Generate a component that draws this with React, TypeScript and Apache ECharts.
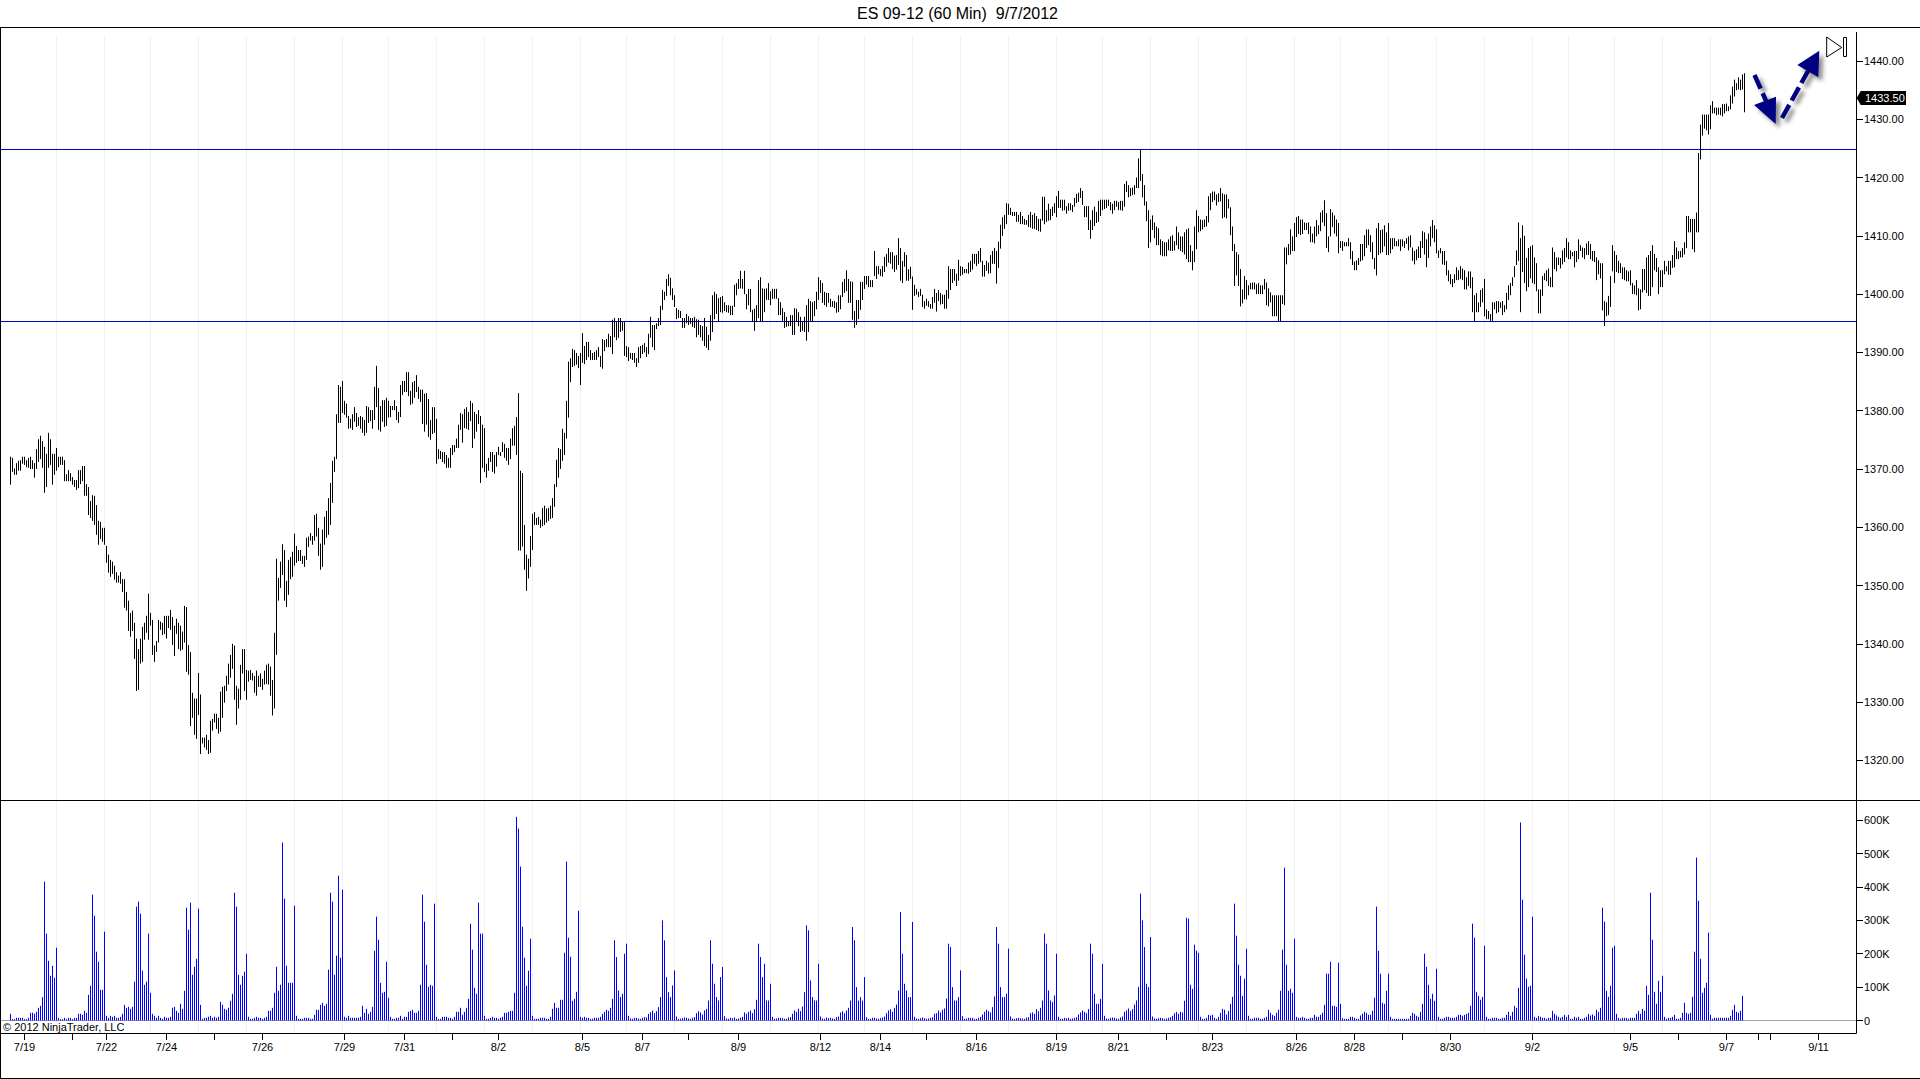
import React, { useEffect, useRef } from "react";
import * as echarts from "echarts";

const highs = [
1372.1,1371.9,1370.1,1371,1371.4,1371.5,1372.1,1372.1,1371.5,1371.9,
1372.1,1371.5,1371,1373.4,1375.1,1375.7,1374.8,1373.8,1372.6,1376.2,
1375.1,1372.6,1372.6,1373.6,1372.1,1372.1,1372.1,1371.5,1369.1,1369.8,
1369.3,1368.6,1368.1,1368.1,1369.8,1369.8,1370.5,1370.5,1367.4,1366.9,
1364.5,1365.5,1365.4,1363.8,1361.1,1360.9,1359.9,1359.9,1356.8,1355.3,
1354.4,1354.1,1353.4,1352.3,1351.7,1352.3,1351.1,1351.1,1348.9,1347.4,
1345.3,1345.7,1343.6,1340.9,1339.1,1340.9,1342.9,1343.6,1344.8,1348.6,
1345.3,1344.1,1339.7,1340.5,1344.1,1343.8,1343.6,1344.8,1344.8,1344.8,
1345.8,1344.6,1343.1,1344.3,1343.6,1343.1,1342.1,1346.5,1346.3,1339.8,
1338.6,1331.6,1330.6,1330.6,1335,1331.3,1323.9,1323.9,1324.4,1323.5,
1326.8,1327.1,1328,1328,1327.3,1331.8,1332.6,1332.8,1334.5,1336.6,
1338.1,1340,1339.7,1332.8,1332.3,1336.4,1339.1,1339.1,1335.5,1335.4,
1335.5,1335,1334.5,1335.4,1334.5,1334.9,1334,1335.4,1336.4,1336.6,
1336.1,1333.8,1341.9,1354.6,1351.3,1354.1,1357.1,1356.1,1350.8,1354.4,
1354.9,1355.8,1358.9,1356.8,1356.1,1356.1,1355.1,1355.1,1358.2,1358.4,
1359,1358.5,1362.1,1362.3,1359.9,1357.2,1359.6,1361.8,1362.8,1365,
1367.6,1371.4,1372.1,1379.4,1384.4,1384.1,1385.1,1381.7,1381.2,1379.1,
1378.6,1379.4,1380.6,1379.6,1378.9,1379.1,1378.9,1378.4,1380.8,1380.6,
1380.1,1380.1,1384.1,1387.7,1383.9,1380.8,1381.8,1381.8,1382.2,1381.7,
1380.8,1380.8,1381.8,1380.8,1379.8,1384.4,1385.1,1385.1,1386.6,1386.6,
1383.4,1384.9,1385.1,1386.1,1384.1,1383.6,1383.6,1382.9,1383,1382,
1378.4,1380.6,1380.6,1378.6,1373.4,1373.1,1372.9,1372.9,1372.4,1371.9,
1373.6,1374.1,1374.1,1375.2,1377.6,1379.6,1379.4,1380.3,1380.6,1379.8,
1381.7,1381.3,1379.8,1379.4,1380.1,1379.1,1377.6,1377,1370.9,1371.9,
1372.9,1372.9,1372.4,1372.9,1373.8,1372.9,1374.6,1374.3,1373.6,1373.6,
1375.2,1377,1377.4,1378.9,1383,1369.7,1369.3,1360.4,1355.3,1354.6,
1358.5,1362.3,1362.6,1361.6,1361.8,1361.3,1363.3,1363.7,1363.2,1363.3,
1363.7,1365,1367.4,1371.6,1373.6,1373.4,1376.9,1376.2,1381.7,1388.4,
1389,1390.6,1390.4,1389.9,1389.4,1389.9,1393.3,1391.1,1391.8,1391.8,
1390.4,1389.9,1390.1,1390.4,1390.9,1389.4,1392.3,1392.1,1392.3,1393.2,
1392.8,1395.6,1395.9,1395.2,1395.9,1395.9,1395.2,1395.2,1391.1,1390.9,
1389.9,1389.9,1389.9,1389,1390.9,1391.1,1391.3,1391.6,1390.9,1393.2,
1396.1,1394.7,1394.7,1395,1395.9,1398,1400.7,1400.4,1402.6,1403.4,
1402.8,1401,1399.8,1397.6,1397.3,1397.1,1395.9,1395.9,1396.6,1396.2,
1395.9,1395.9,1396.1,1395.7,1395.6,1394.7,1394.5,1395.9,1394.4,1393,
1396.4,1399.8,1400.4,1400,1399.3,1399.5,1399.7,1398.6,1398.1,1398.1,
1398,1398,1401.6,1401.9,1402.6,1404,1402.6,1404,1400,1400.9,
1400.9,1397.3,1397.5,1398.1,1402.4,1402.9,1401,1400.9,1401,1401.9,
1400.5,1400.9,1400.9,1400.9,1399.3,1398.6,1397.6,1396.9,1396.1,1395.4,
1396.4,1396.4,1397.6,1397.5,1396.9,1396.1,1395.2,1396.1,1398.1,1399.2,
1398.8,1398.6,1398.8,1400.4,1402.9,1402.4,1401.9,1400.4,1400.2,1400.2,
1399.2,1398.8,1398.8,1398.6,1399.8,1399.8,1402.1,1402.6,1404.1,1402.6,
1402.2,1402.1,1397.1,1399,1399,1402.1,1402.1,1403.1,1403.1,1403.1,
1402.4,1402.4,1407.4,1404.8,1404.8,1404.3,1404.8,1406.4,1406.9,1407.9,
1407.2,1407.2,1406.6,1406.7,1409.6,1407.9,1405.7,1407.2,1406.7,1404.3,
1404.7,1403,1401.6,1400.9,1400.4,1400.9,1399.9,1398.8,1399.2,1398.8,
1398.3,1399.5,1400.9,1400.2,1400.7,1400.2,1399.9,1399.9,1400.7,1404.8,
1404.3,1404.3,1404.3,1403.5,1405.9,1404.8,1404.7,1404.3,1404.3,1405.4,
1405.7,1406.9,1406.9,1406.9,1407.4,1407.9,1405.7,1405,1405.7,1405.4,
1406.7,1407.4,1407.9,1407.4,1409,1411.9,1413.2,1413.6,1415.6,1415.5,
1414.8,1414.1,1414.1,1414.1,1413.6,1414.1,1413.4,1412.9,1412.7,1413.6,
1414.1,1413.6,1413.9,1413.4,1412.9,1412.9,1416.7,1416.7,1414.4,1415.5,
1414.6,1415,1415.6,1416.8,1417.7,1416.2,1416.2,1416.2,1415.1,1415.6,
1415.6,1415.3,1416.5,1417.2,1417.4,1418.2,1417.7,1415.1,1415.1,1415.1,
1412.7,1414.4,1415,1414.1,1416,1416.2,1416.2,1416.2,1416.2,1416.2,
1415.8,1415.5,1416,1416,1415.8,1416,1416,1418.9,
1419.4,1418.7,1418.2,1418.3,1418.7,1420,1423.3,1424.8,1420.6,1418.7,
1415.9,1414.4,1412.8,1413.5,1412.3,1411.6,1411.3,1409.4,1409.1,1408.9,
1408.9,1409.4,1409.9,1410.1,1409.1,1411.6,1410.6,1409.9,1409.9,1410.6,
1411.1,1411.3,1408.4,1407.4,1411.6,1414.4,1413.4,1412.8,1412.7,1412.8,
1413.4,1416.8,1417.3,1417.6,1417.6,1417.1,1417.3,1418.2,1417.3,1417.1,
1417.1,1416.3,1414.9,1411.6,1408.6,1407.2,1406.8,1404.3,1400.8,1403.1,
1402.4,1401.5,1401.9,1402,1402,1401.7,1401.9,1401.5,1401.5,1402.6,
1402,1401,1400.3,1399.8,1399.8,1399.8,1399.8,1399.8,1399.8,1408,
1408,1408.6,1411.1,1409.9,1412.2,1413.2,1413.4,1412.8,1412.8,1412.3,
1412.2,1412.3,1411.6,1410.4,1411.6,1412.7,1411.8,1414,1414.4,1416.1,
1413.9,1409.9,1414.6,1414,1413.5,1412.8,1412.2,1409.1,1409.1,1408.9,
1408.9,1409.6,1408.9,1407.4,1405.6,1405.8,1406.2,1408.6,1408.6,1410.1,
1411.1,1411.1,1410.1,1408.9,1406.2,1411.3,1412.2,1411,1411.1,1411.8,
1410.6,1412.2,1409.6,1409.6,1409.6,1409.1,1409.4,
1409.4,1409.4,1409.1,1409.6,1409.9,1410.1,1408,1407.4,1407.7,1408.2,
1409.1,1410.8,1410.6,1409.4,1410.4,1411.6,1412.7,1411.8,1411.1,1407.5,
1407.9,1407.4,1407.4,1405.7,1404.1,1403.4,1402.6,1403.4,1404.6,1404.1,
1404.8,1404.4,1404.1,1402.9,1403.9,1403.9,1402.9,1399.8,1400.2,1398.6,
1400.7,1401,1402.6,1397.4,1397.1,1396.6,1398.6,1398.6,1398.8,1398.8,
1398.6,1398.8,1398.1,1400.2,1401.5,1401.9,1402.9,1404.8,1407.5,1412.3,
1409.6,1411.8,1410,1406.2,1407.9,1408.2,1408.4,1406.3,1405.3,1400.8,
1400.8,1403.1,1403.6,1404.1,1404.4,1402.9,1408,1407.2,1406.3,1406.3,
1406.2,1407.5,1407.9,1409.6,1408.9,1407.5,1407.2,1407.4,1407.4,1409.4,
1408.4,1408,1407.9,1408.7,1409.1,1408.6,1407.4,1407.4,1406.3,1405.8,
1405.3,1405.3,1398.8,1398.6,1399.7,1403.1,1408.4,1407.4,1406.7,1405.7,
1405.3,1404.6,1404.6,1404.1,1403.9,1404.1,1401.9,1401.5,1402.4,1401,
1400.8,1404.3,1404.3,1406.3,1406.7,1407.4,1408.4,1406.9,1406.2,1404.6,
1404.1,1404.1,1405.7,1404.8,1405.7,1405.7,1406.7,1409.1,1408,1407.4,
1407.4,1407.9,1408.9,1413.4,1413.4,1412.9,1412.9,1412.9,1414,1424.2,
1429.1,1430.8,1430.8,1430.8,1430.8,1432.4,1433.1,1432,1432,1432,
1432,1432.6,1432.6,1432.7,1432.2,1434.1,1435.6,1436.8,1436.2,1437.2,
1436.8,1437.7,1437.9,
];

const lows = [
1367.3,1369.5,1369,1369,1369.7,1369.7,1370.9,1370.7,1370.3,1370.2,
1370,1370,1368.5,1370,1371.2,1371.7,1370.2,1365.9,1366.9,1370.2,
1370.7,1367.3,1369,1369.7,1370.3,1370.7,1370.7,1367.9,1367.9,1367.9,
1367.9,1367.3,1366.9,1366.4,1366.7,1367.4,1367.9,1365.4,1365.4,1362.1,
1361.6,1361.1,1360.4,1358.7,1357,1358,1357.5,1357,1353.9,1352.2,
1351.5,1352,1351,1350.5,1350.5,1350.3,1348.9,1346.2,1345.7,1342.2,
1341.2,1342.2,1337.4,1331.9,1332.1,1336.6,1336.9,1340.7,1341.9,1340.7,
1343.1,1338.1,1336.9,1338.6,1340.2,1342.4,1341.5,1341.7,1340.9,1342.7,
1342.4,1339.8,1337.9,1341.7,1339.1,1338.8,1339,1340.2,1335.2,1334.7,
1325.9,1327.3,1324.4,1323.7,1327.8,1321.1,1322.9,1322.2,1321.8,1321.1,
1321.3,1325.1,1326.5,1325.4,1324.6,1324.9,1327.3,1329.9,1331.9,1333,
1334.2,1335.7,1330.4,1326.1,1328.9,1330.4,1334.9,1331.9,1330.4,1333.5,
1333.8,1333.7,1331.6,1331.1,1332.6,1332.6,1332.1,1333,1333.1,1333,
1331.1,1327.7,1328.9,1338.1,1347.4,1349.6,1351.8,1347.4,1346.3,1348.4,
1351.1,1351.5,1353.4,1353.9,1354.2,
1354.2,1353.7,1353.2,1354.4,1356.6,1357.7,1357,1357.7,1358.4,1355.1,
1352.7,1353.2,1357,1358.2,1358.7,1360.4,1364.2,1369.5,1371.7,1377.9,
1377.9,1379.6,1379.3,1378.8,1376.9,1377,1376.7,1378.1,1377.2,1377.4,
1376.9,1376.2,1375.7,1376.2,1377.9,1378.2,1376.9,1378.4,1380.6,1376.7,
1376.4,1378.1,1377.2,1377.4,1378.8,1378.9,1380.1,1380.1,1378.4,1377.9,
1378.9,1382.7,1383.2,1383.2,1382.5,1381,1381.2,1382.2,1383.2,1382,
1381.5,1377.7,1376.4,1377.6,1375.5,1375,1376,1376.2,1370.9,1371.7,
1371.7,1371.2,1370.9,1370.2,1370.2,1370.2,1372.4,1372.9,1373.6,1373.6,
1376.7,1374.5,1377,1376.9,1376.7,1378.2,1373.6,1375.2,1376.4,1377.7,
1367.6,1370.2,1369.5,1368.5,1369.7,1371.2,1369.5,1369.2,1370.4,1372.4,
1372.2,1372.9,1371.9,1371.4,1370.7,1371.7,1374,1374,1372.4,1356,
1356,1356.7,1352.7,1349.1,1351.2,1353.2,1356.1,1360.4,1360.4,1360.4,
1359.9,1360.2,1360.4,1360.8,1361.1,1361.4,1361.6,1363.5,1366.9,1368.5,
1370,1371.4,1372.4,1375.2,1378.8,
1384.9,1387.5,1387.7,1387.9,1387.3,1384.4,1388.2,1388,1388.7,1389.2,
1388.7,1388.7,1388.7,1388.7,1389.2,1387.5,1387.2,1390.2,1390.9,1390.9,
1390.9,1389.7,1392.6,1392.1,1392.5,1393.5,1393.7,1389.4,1389.2,1388.5,
1388.9,1388.7,1388.2,1387.5,1388.2,1389,1389.7,1390,1389.2,1389.7,
1392.5,1390.9,1390.4,1394,1394.5,1394.7,1397.3,1399,1399.7,1401.4,
1399.8,1399,1397.8,1395.7,1395.9,1395.9,1394.2,1394.2,1395,1394.7,
1394.9,1394.4,1394.2,1392.6,1393,1392.6,1392,1391.1,1390.8,1390.4,
1392,1393.5,1395.7,1396.6,1395.2,1396.9,1396.8,1397.1,1396.9,1396.8,
1396.4,1396.4,1397.8,1399.8,1400.9,1401,1400.9,1400,1397.4,1398.1,
1396.9,1395.2,1393.7,1395.2,1395.9,1395.2,1395.2,1396.9,1399,1399,
1398.1,1399.2,1399.2,1399.2,1396.4,1396.4,1395.4,1394.2,1394.4,1394.5,
1394.5,1393,1393,1395.2,1394.5,1393.5,1393.7,1393.5,1392,1393.5,
1395.4,1395.2,1396.2,1397.4,1399,1400.2,1398.5,1398.1,1397.8,1398.5,
1397.8,1397.8,1397.6,1396.8,1396.9,1397.4,1399.5,1400.2,1400.5,1398.5,
1398.5,1395.6,1394.2,1394.7,1395.7,1397.3,1399,1400.9,1401.6,1401.2,
1401.2,1401.2,1403.1,1402.6,1403.4,1403.1,
1403,1403.8,1404.7,1405.4,
1405.2,1404.3,1403.8,1404.2,1405,1402.3,1401.9,1404.7,1402.3,1402.3,
1402.6,1397.3,1399.7,1399.9,1399.5,1399.7,1397.8,1397.5,1398,1397.8,
1397.5,1397.5,1398.5,1397,1398.8,1398.2,1398.3,1397.5,1397.5,1399.2,
1400.7,1401.9,1402.3,1401.4,1402.3,1403.1,1403.3,1403.6,1403.6,1403.5,
1403.8,1404.2,1405.2,1404.8,1405.2,1405.5,1403,1403,1404,1403.5,
1403.6,1405.2,1405.2,1401.8,1404.5,1407.8,1410,1411.2,1412,1413.6,
1413.6,1413.4,1413.4,1412.4,1412.4,1412,1412,1411.9,1411.9,1411.5,
1411.4,1411.2,1411.2,1411,1410.8,1410.7,1412.6,1412,1412.4,1412.6,
1412.7,1413.4,1413.9,1413.2,1414.8,1414.8,1414.3,1414.4,1413.8,1414.3,
1414.4,1414.1,1415,1415.6,1415.8,1416.5,1415.3,1413.2,1413.2,1411,
1409.5,1411,1411.7,1412.2,1412.4,1413.4,1414.4,1414.6,1414.8,1415.1,
1414.4,1413.8,1414.4,1415,1414.4,1414.4,1414.3,1415,
1417.5,1416.6,1416.8,1417,1417.1,1418.2,1418.2,1419.4,1416.6,1415.2,
1412.5,1407.9,1408.9,1411,1409.6,1408.4,1408.4,1406.7,1406.5,1406.5,
1406.5,1407.5,1407.4,1407.4,1407.5,1408.4,1407.7,1407.4,1407.2,1406.8,
1406,1405.5,1405.5,1404.1,1405.5,1407.7,1410.6,1410.8,1411.1,1411.5,
1411.6,1412.3,1414.4,1415.8,1416.1,1415.2,1415.8,1415.9,1413,1413.2,
1413,1414.7,1410.1,1407.4,1401.4,1403.2,1401.4,1397.9,1398.4,1399.1,
1399.1,1399.8,1400.8,1400.8,1400.8,1400,1400,1400,1400,1400.8,
1398.1,1397.9,1398.6,1396.2,1396.2,1396.2,1395.3,1395.3,1398.3,1398.1,
1405.1,1406.7,1406.8,1407.4,1407.4,1409.8,1410.3,1410.1,1410.3,1411,
1411,1410.3,1408.9,1408.9,1408.7,1409.9,1410.3,1410.8,1412.3,1411.7,
1407.9,1407.2,1409.9,1411.5,1410.4,1409.9,1407,1407.9,1407.4,1408.2,
1408.2,1408.2,1406,1405,1404.1,1404.1,1405,1405.6,1405.8,1406.5,
1407.9,1408.4,1407.2,1406,1404.3,1403.2,1406.7,1407,1407.2,1408.2,
1406.7,1406.7,1407,1407.7,1408.2,1408.2,1408.2,
1407.4,1408.2,1407.9,1408.6,1407.5,1408,1405.7,1405.1,1405.8,1406.2,
1406.2,1407.9,1406.8,1404.6,1406.2,1408.2,1409.6,1408.9,1407,1406.2,
1407,1405.1,1405,1403.2,1402.2,1401.7,1401.2,1401.9,1402.4,1402.4,
1402.6,1402.4,1400.8,1400.8,1401.4,1401,1396.9,1395.4,1396.9,1396.9,
1397.8,1398.6,1396.2,1395.7,1395.7,1395.4,1395.4,1397.4,1396.7,1396.9,
1397.6,1396.4,1396.9,1397.4,1399,1399.8,1401.4,1402.9,1405,1405.7,
1396.9,1403.8,1401.9,1400.5,1401.2,1402.7,1401.9,1401.7,1400.5,1396.7,
1396.7,1399.7,1402.4,1402.2,1401.4,1401.2,1401.2,1404.3,1403.9,1405,
1404.4,1405.1,1405.5,1406.3,1406,1406,1406.5,1404.6,1405.5,1406,
1407.4,1406.3,1406,1406.7,1406.7,1406,1405.7,1405.5,1402.4,1403.4,
1402.7,1397.2,1394.5,1396.2,1396.4,1397.8,1403.9,1401.9,1403.8,1403.6,
1403.6,1402.6,1402.4,1402.2,1402.2,1401.5,1400,1400,1399.8,1397.2,
1397.4,1400.3,1400.7,1400.2,1399.7,1399.7,1401.2,1404.1,1403.8,1400,
1401.2,1401.2,1403.4,1403.9,1403.3,1403.3,1404.5,1404.6,1406,1406,
1406.3,1406.3,1406.8,1407.9,1410.6,1410.6,1407.7,1407.2,1410.6,1410.6,
1423.1,1427.2,1428.4,1428.1,1427.4,1428.3,1431,1431,1430.7,1430.8,
1430.7,1430.5,1431,1431.4,1431.4,1431.7,1432.7,1433.9,1435,1435.1,
1435,1435.1,1431.2,
];

const volumesK = [
20,4,4,8,8,8,8,4,4,8,23,23,20,26,38,44,70,416,260,179,134,164,128,218,
8,4,4,8,4,8,8,4,8,8,20,20,17,29,23,77,104,377,314,206,176,92,92,266,
14,8,14,11,14,8,8,11,20,47,38,41,35,41,116,341,356,320,149,107,116,260,83,
20,14,8,14,8,5,11,8,8,11,38,41,29,23,50,35,89,338,272,353,137,161,185,335,47,
5,8,8,11,14,8,11,8,11,56,47,35,32,38,59,80,383,341,137,107,134,146,200,
11,5,5,8,11,8,8,5,8,11,29,29,38,83,161,89,107,533,365,164,113,113,113,344,
14,5,5,5,8,8,8,5,5,17,32,32,47,53,44,50,152,383,356,137,194,434,188,392,
11,8,14,8,8,8,8,8,11,44,23,35,20,26,41,209,311,242,113,83,86,176,68,
11,5,5,8,8,14,5,11,11,26,29,32,23,23,29,107,377,296,167,101,107,104,350,
11,5,5,11,11,11,8,8,5,11,26,26,38,17,26,38,65,290,212,98,80,353,260,260,
14,5,5,8,11,8,8,5,8,11,23,23,26,29,29,83,610,575,461,281,188,104,149,245,
14,5,5,5,8,8,8,5,5,11,35,53,38,38,62,62,203,476,248,191,59,65,86,329,
11,8,11,8,8,5,5,8,8,8,11,20,26,32,29,38,65,240,190,90,70,80,200,230,
14,6,5,8,8,6,5,8,10,9,20,25,30,22,28,40,70,300,240,130,85,70,105,150,
12,5,5,7,9,8,6,5,8,10,22,28,24,18,30,35,60,240,170,110,70,60,130,160,
13,6,5,8,7,9,5,6,8,11,24,20,26,30,22,34,62,230,190,130,170,60,60,110,
11,5,6,8,8,7,5,5,9,10,20,30,26,35,28,42,85,285,270,120,70,60,60,170,
12,6,5,9,7,8,6,5,10,12,24,28,22,30,38,60,280,240,100,60,70,60,130,
10,5,5,8,8,6,5,7,9,12,22,30,34,26,38,48,90,325,200,110,90,70,70,295,
11,6,5,7,9,7,5,6,8,10,20,22,30,24,32,36,66,230,220,100,60,60,70,150,
13,5,6,8,8,8,5,5,8,11,18,26,32,28,24,40,72,280,230,100,70,70,80,215,
12,6,5,7,8,7,6,5,9,10,22,24,20,34,28,38,60,260,230,90,60,55,75,200,
11,5,5,8,7,8,5,6,8,10,18,24,30,26,22,34,230,200,80,50,50,65,170,
14,6,5,8,9,8,6,5,9,12,26,30,36,28,34,48,60,100,380,300,220,110,100,250,
12,6,5,7,8,7,5,6,8,10,14,22,26,20,26,24,59,308,305,107,95,227,209,203,
11,5,5,8,17,15,17,8,5,11,23,35,32,18,29,50,71,350,254,167,134,74,125,215,
14,5,5,8,8,8,5,5,8,11,32,23,17,14,23,32,89,212,458,167,89,95,83,245,
11,8,8,11,8,5,5,8,8,17,11,11,17,23,47,140,140,176,44,44,41,173,50,
7,5,5,5,11,11,8,5,5,15,20,26,23,17,17,29,68,341,209,140,53,50,89,140,
11,5,5,5,5,5,5,5,5,5,14,23,20,14,11,26,50,200,161,107,65,80,59,155,
11,5,5,8,11,11,8,8,8,11,17,17,14,17,20,23,44,290,248,86,74,62,71,224,
11,5,5,8,8,8,5,5,8,8,17,26,14,26,44,38,98,593,362,197,125,101,104,311,
11,8,14,11,8,8,5,8,8,29,20,15,11,8,11,17,11,17,
5,5,11,8,11,5,5,8,11,20,15,18,14,32,26,38,338,296,89,71,104,218,224,
20,8,5,8,8,8,5,8,8,8,20,29,20,35,29,104,77,383,242,86,50,119,86,134,
11,5,8,8,11,17,5,5,8,23,53,23,20,23,71,206,488,359,185,83,98,113,263,
17,5,8,8,8,8,8,8,8,8,14,32,47,26,23,29,74,
];

const sessionStarts = [23,47,70,94,118,142,166,189,213,237,261,285,308,332,356,380,404,427,451,475,499,523,546,570,594,618,642,665,689,713,737,761,779,802,826,850];
const dateLabels = ["7/19","7/22","7/24","7/26","7/29","7/31","8/2","8/5","8/7","8/9","8/12","8/14","8/16","8/19","8/21","8/23","8/26","8/28","8/30","9/2","9/5","9/7","9/11"];
const dateBars = [7,48,78,126,167,197,244,286,316,364,405,435,483,523,554,601,643,672,720,761,810,858,904];
const unlabeledBars = [31,102,221,339,458,578,696,834,874,880];
const priceTicks = [1320,1330,1340,1350,1360,1370,1380,1390,1400,1410,1420,1430,1440];
const volumeTicks = [0,100,200,300,400,500,600];
const levels = [1424.81, 1395.3];
const XMIN = -5.25;
const XMAX = 922.75;
const FONT = "Liberation Sans";

const ohlc = highs.map((h, i) => [i, h, lows[i]]);
const vols = volumesK.map((v, i) => [i, v]);
const labelByBar: Record<number, string> = {};
dateBars.forEach((b, i) => { labelByBar[b] = dateLabels[i]; });

function vline(api: any, x: number, y1: number, y2: number, stroke: string) {
  const a = api.coord([x, y1]);
  const b = api.coord([x, y2]);
  return { type: "line", shape: { x1: a[0], y1: a[1], x2: b[0], y2: b[1] }, style: { stroke, lineWidth: 1 }, silent: true };
}

function frameLine(x1: number, y1: number, x2: number, y2: number) {
  return { type: "line", silent: true, shape: { x1, y1, x2, y2 }, style: { stroke: "#000", lineWidth: 1 }, z: 20 };
}

const shadow = { shadowBlur: 4, shadowOffsetX: 4, shadowOffsetY: 4, shadowColor: "rgba(0,0,0,0.45)" };

export default function App() {
  const ref = useRef<HTMLDivElement>(null);
  useEffect(() => {
    const chart = echarts.init(ref.current!, undefined, { renderer: "svg" });
    chart.setOption({
      animation: false,
      backgroundColor: "#fff",
      title: {
        text: "ES 09-12 (60 Min)  9/7/2012",
        left: 852,
        top: 0,
        textStyle: { fontFamily: FONT, fontSize: 16, fontWeight: "normal", color: "#000" },
      },
      grid: [
        { left: 0, top: 28, width: 1856, height: 772 },
        { left: 0, top: 800, width: 1856, height: 233 },
      ],
      xAxis: [
        { type: "value", gridIndex: 0, min: XMIN, max: XMAX, show: false },
        {
          type: "value",
          gridIndex: 1,
          min: XMIN,
          max: XMAX,
          position: "bottom",
          axisLine: { show: false, onZero: false },
          splitLine: { show: false },
          axisTick: { show: true, length: 7, customValues: [...dateBars, ...unlabeledBars], lineStyle: { color: "#000", width: 1 } },
          axisLabel: {
            show: true,
            customValues: dateBars,
            margin: 8,
            color: "#000",
            fontFamily: FONT,
            fontSize: 11,
            hideOverlap: false,
            formatter: (v: number) => labelByBar[Math.round(v)] ?? "",
          },
        },
      ],
      yAxis: [
        {
          type: "value",
          gridIndex: 0,
          min: 1313.2,
          max: 1445.66,
          position: "right",
          axisLine: { show: false, onZero: false },
          splitLine: { show: false },
          axisTick: { show: true, length: 7, customValues: priceTicks, lineStyle: { color: "#000", width: 1 } },
          axisLabel: {
            show: true,
            customValues: priceTicks,
            margin: 8,
            color: "#000",
            fontFamily: FONT,
            fontSize: 11,
            formatter: (v: number) => v.toFixed(2),
          },
        },
        {
          type: "value",
          gridIndex: 1,
          min: -37.4,
          max: 660.4,
          position: "right",
          axisLine: { show: false, onZero: false },
          splitLine: { show: false },
          axisTick: { show: true, length: 7, customValues: volumeTicks, lineStyle: { color: "#000", width: 1 } },
          axisLabel: {
            show: true,
            customValues: volumeTicks,
            margin: 8,
            color: "#000",
            fontFamily: FONT,
            fontSize: 11,
            formatter: (v: number) => (v === 0 ? "0" : `${v}K`),
          },
        },
      ],
      series: [
        {
          type: "custom",
          silent: true,
          xAxisIndex: 0,
          yAxisIndex: 0,
          data: sessionStarts.map((s) => [s]),
          encode: { x: 0 },
          renderItem: (_p: any, api: any) => vline(api, api.value(0), 1313.2, 1444.4, "#f1f1f1"),
          z: 1,
        },
        {
          type: "custom",
          silent: true,
          xAxisIndex: 1,
          yAxisIndex: 1,
          data: sessionStarts.map((s) => [s]),
          encode: { x: 0 },
          renderItem: (_p: any, api: any) => vline(api, api.value(0), -37.4, 660.4, "#f1f1f1"),
          z: 1,
        },
        ...levels.map((lv) => ({
          type: "line",
          silent: true,
          xAxisIndex: 0,
          yAxisIndex: 0,
          symbol: "none",
          data: [[XMIN, lv], [XMAX, lv]],
          lineStyle: { color: "#0000c8", width: 1 },
          z: 3,
        })),
        {
          type: "line",
          silent: true,
          xAxisIndex: 1,
          yAxisIndex: 1,
          symbol: "none",
          data: [[XMIN, 0], [XMAX, 0]],
          lineStyle: { color: "#a0a0a0", width: 1 },
          z: 2,
        },
        {
          type: "custom",
          silent: true,
          name: "Price",
          xAxisIndex: 0,
          yAxisIndex: 0,
          data: ohlc,
          encode: { x: 0, y: [1, 2] },
          renderItem: (_p: any, api: any) => vline(api, api.value(0), api.value(1), api.value(2), "#000"),
          z: 4,
        },
        {
          type: "custom",
          silent: true,
          name: "Volume",
          xAxisIndex: 1,
          yAxisIndex: 1,
          data: vols,
          encode: { x: 0, y: 1 },
          renderItem: (_p: any, api: any) => vline(api, api.value(0), 0, api.value(1), "#0000ff"),
          z: 4,
        },
      ],
      graphic: [
        frameLine(0.5, 27.5, 0.5, 1078.5),
        frameLine(0, 27.5, 1920, 27.5),
        frameLine(0, 800.5, 1920, 800.5),
        frameLine(0, 1033.5, 1856.5, 1033.5),
        frameLine(0, 1078.5, 1920, 1078.5),
        frameLine(1856.5, 32, 1856.5, 1033.5),
        {
          type: "text",
          silent: true,
          x: 3,
          y: 1021,
          z: 20,
          style: { text: "© 2012 NinjaTrader, LLC", fontFamily: FONT, fontSize: 11, fill: "#000" },
        },
        {
          type: "polygon",
          silent: true,
          z: 20,
          shape: { points: [[1856.7, 98], [1860.7, 91], [1906, 91], [1906, 105], [1860.7, 105]] },
          style: { fill: "#000" },
        },
        {
          type: "text",
          silent: true,
          x: 1865,
          y: 92,
          z: 21,
          style: { text: "1433.50", fontFamily: FONT, fontSize: 11, fill: "#fff" },
        },
        {
          type: "polygon",
          silent: true,
          z: 20,
          shape: { points: [[1826.7, 37], [1841.7, 47.5], [1826.7, 57]] },
          style: { fill: "#fff", stroke: "#000", lineWidth: 1 },
        },
        { type: "rect", silent: true, z: 20, shape: { x: 1843.5, y: 37.5, width: 3, height: 19 }, style: { fill: "#fff", stroke: "#000", lineWidth: 1 } },
        {
          type: "line",
          silent: true,
          z: 22,
          shape: { x1: 1754.5, y1: 75, x2: 1767, y2: 103 },
          style: { stroke: "#000080", lineWidth: 4.5, lineDash: [15, 5], ...shadow },
        },
        {
          type: "polygon",
          silent: true,
          z: 22,
          shape: { points: [[1754, 105], [1776, 96.7], [1775.7, 124]] },
          style: { fill: "#000080", ...shadow },
        },
        {
          type: "line",
          silent: true,
          z: 22,
          shape: { x1: 1782, y1: 118, x2: 1808, y2: 71 },
          style: { stroke: "#000080", lineWidth: 4.5, lineDash: [15, 5], ...shadow },
        },
        {
          type: "polygon",
          silent: true,
          z: 22,
          shape: { points: [[1819.3, 50.7], [1797.3, 65], [1818.3, 77.3]] },
          style: { fill: "#000080", ...shadow },
        },
      ],
    });
    return () => chart.dispose();
  }, []);
  return <div ref={ref} style={{ position: "fixed", left: 0, top: 0, width: 1920, height: 1079 }} />;
}
